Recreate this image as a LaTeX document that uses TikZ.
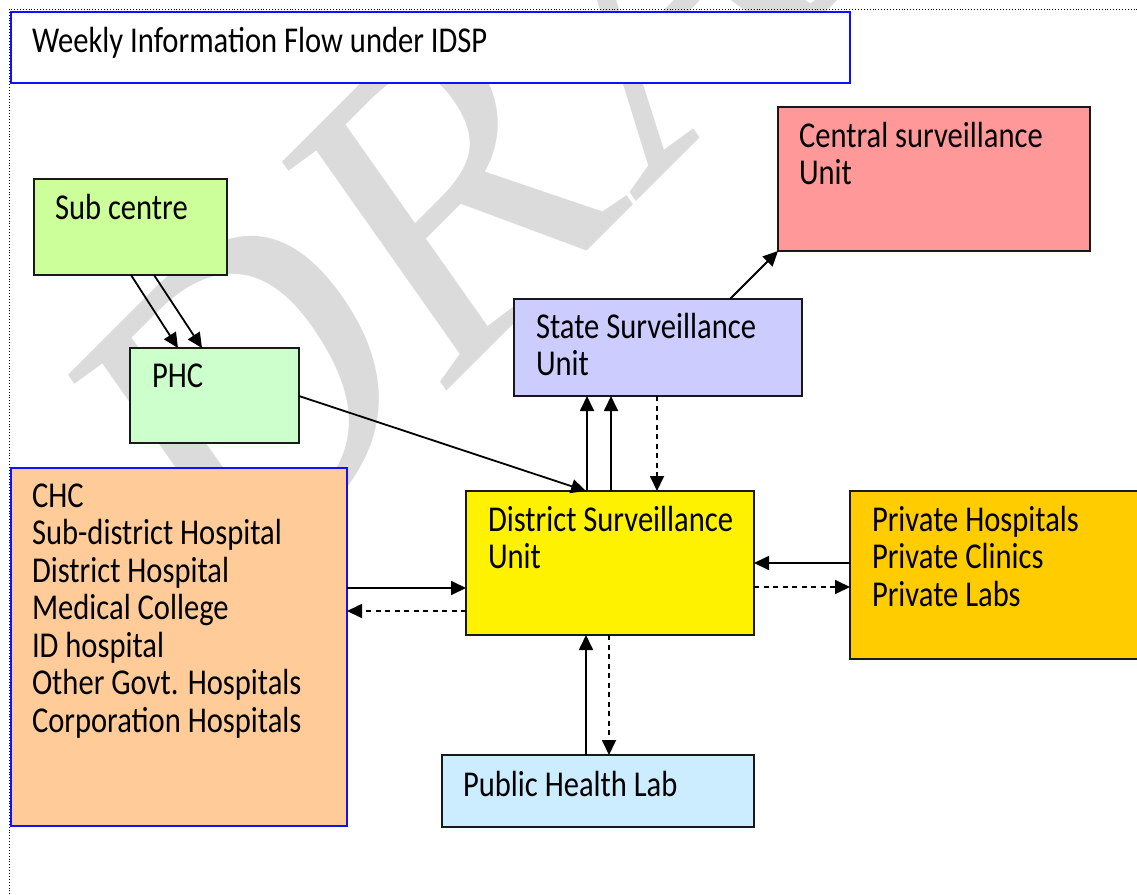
\documentclass[tikz,border=0pt]{standalone}
\usepackage{fontspec}
\setmainfont{Carlito}[FakeStretch=0.84]
\newfontfamily\wmfont{Liberation Serif}
\usetikzlibrary{arrows.meta}
\definecolor{scgreen}{HTML}{CCFF99}
\definecolor{phcgreen}{HTML}{CCFFCC}
\definecolor{chcorange}{HTML}{FFCC99}
\definecolor{ssublue}{HTML}{CCCCFF}
\definecolor{csured}{HTML}{FF9999}
\definecolor{privgold}{HTML}{FFCC00}
\definecolor{labblue}{HTML}{CCECFF}
\definecolor{boxblue}{HTML}{1010FF}
\begin{document}
\begin{tikzpicture}[x=1pt,y=-1pt,
  box/.style={draw=black!90, line width=1.6pt, inner sep=0pt, outer sep=0pt, anchor=north west},
  bluebox/.style={box, draw=boxblue},
  lbl/.style={anchor=base west, inner sep=0pt, outer sep=0pt, font=\fontsize{36.4}{37.5}\selectfont, align=left},
  arr/.style={line width=1.8pt, -{Triangle[length=15pt,width=14pt]}},
  darr/.style={arr, dash pattern=on 5pt off 4.5pt},
]
\useasboundingbox (0,0) rectangle (1137,894);
\begin{scope}
\clip (0,0) rectangle (1137,894);
% watermark
\begin{scope}[xscale=0.84]
\node[rotate=40, transform shape, anchor=base west, inner sep=0pt, text=gray!28, font=\wmfont\fontsize{460}{460}\selectfont] (wm) at (265,615) {DRAFT};
\end{scope}
% page frame
\draw[dotted, line width=0.9pt] (9,900) -- (9,9) -- (1140,9);
% boxes
\node[bluebox, fill=white, minimum width=839pt, minimum height=71pt] (title) at (11,12) {};
\node[box, fill=scgreen, minimum width=193pt, minimum height=96pt] (sc) at (34,179) {};
\node[box, fill=phcgreen, minimum width=169pt, minimum height=95pt] (phc) at (130,348) {};
\node[box, fill=csured, minimum width=312pt, minimum height=144pt] (csu) at (778,107) {};
\node[box, fill=ssublue, minimum width=288pt, minimum height=97pt] (ssu) at (514,299) {};
\node[box, fill=yellow, minimum width=288pt, minimum height=144pt] (dsu) at (466,491) {};
\node[bluebox, fill=chcorange, minimum width=336pt, minimum height=358pt] (chc) at (11,468) {};
\node[box, fill=privgold, minimum width=289pt, minimum height=168pt] (priv) at (850,491) {};
\node[box, fill=labblue, minimum width=312pt, minimum height=72pt] (lab) at (442,755) {};
% labels (base = baseline of last line)
\node[lbl] (ttitle) at (32,52) {Weekly Information Flow under IDSP};
\node[lbl] (tsc) at (55,219) {Sub centre};
\node[lbl] (tphc) at (152,387) {PHC};
\node[lbl] (tcsu) at (799,184.5) {Central surveillance\\Unit};
\node[lbl] (tssu) at (536,375.5) {State Surveillance\\Unit};
\node[lbl] (tdsu) at (488,568.5) {District Surveillance\\Unit};
\node[lbl] (tchc) at (32,732) {CHC\\Sub-district Hospital\\District Hospital\\Medical College\\ID hospital\\Other Govt. Hospitals\\Corporation Hospitals};
\node[lbl] (tpriv) at (872,606) {Private Hospitals\\Private Clinics\\Private Labs};
\node[lbl] (tlab) at (463,796) {Public Health Lab};
% connectors
\draw[arr] (131,0 |- sc.south) -- (178,0 |- phc.north);
\draw[arr] (154,0 |- sc.south) -- (202,0 |- phc.north);
\draw[arr] (phc.east |- 0,396) -- (586,0 |- dsu.north);
\draw[arr] (587,0 |- dsu.north) -- (587,0 |- ssu.south);
\draw[arr] (611,0 |- dsu.north) -- (611,0 |- ssu.south);
\draw[darr] (657,0 |- ssu.south) -- (657,0 |- dsu.north);
\draw[arr] (730,0 |- ssu.north) -- (csu.south west);
\draw[arr] (chc.east |- 0,588) -- (dsu.west |- 0,588);
\draw[darr] (dsu.west |- 0,611) -- (chc.east |- 0,611);
\draw[arr] (priv.west |- 0,563) -- (dsu.east |- 0,563);
\draw[darr] (dsu.east |- 0,587) -- (priv.west |- 0,587);
\draw[arr] (586,0 |- lab.north) -- (586,0 |- dsu.south);
\draw[darr] (609,0 |- dsu.south) -- (609,0 |- lab.north);
\end{scope}
\end{tikzpicture}
\end{document}
